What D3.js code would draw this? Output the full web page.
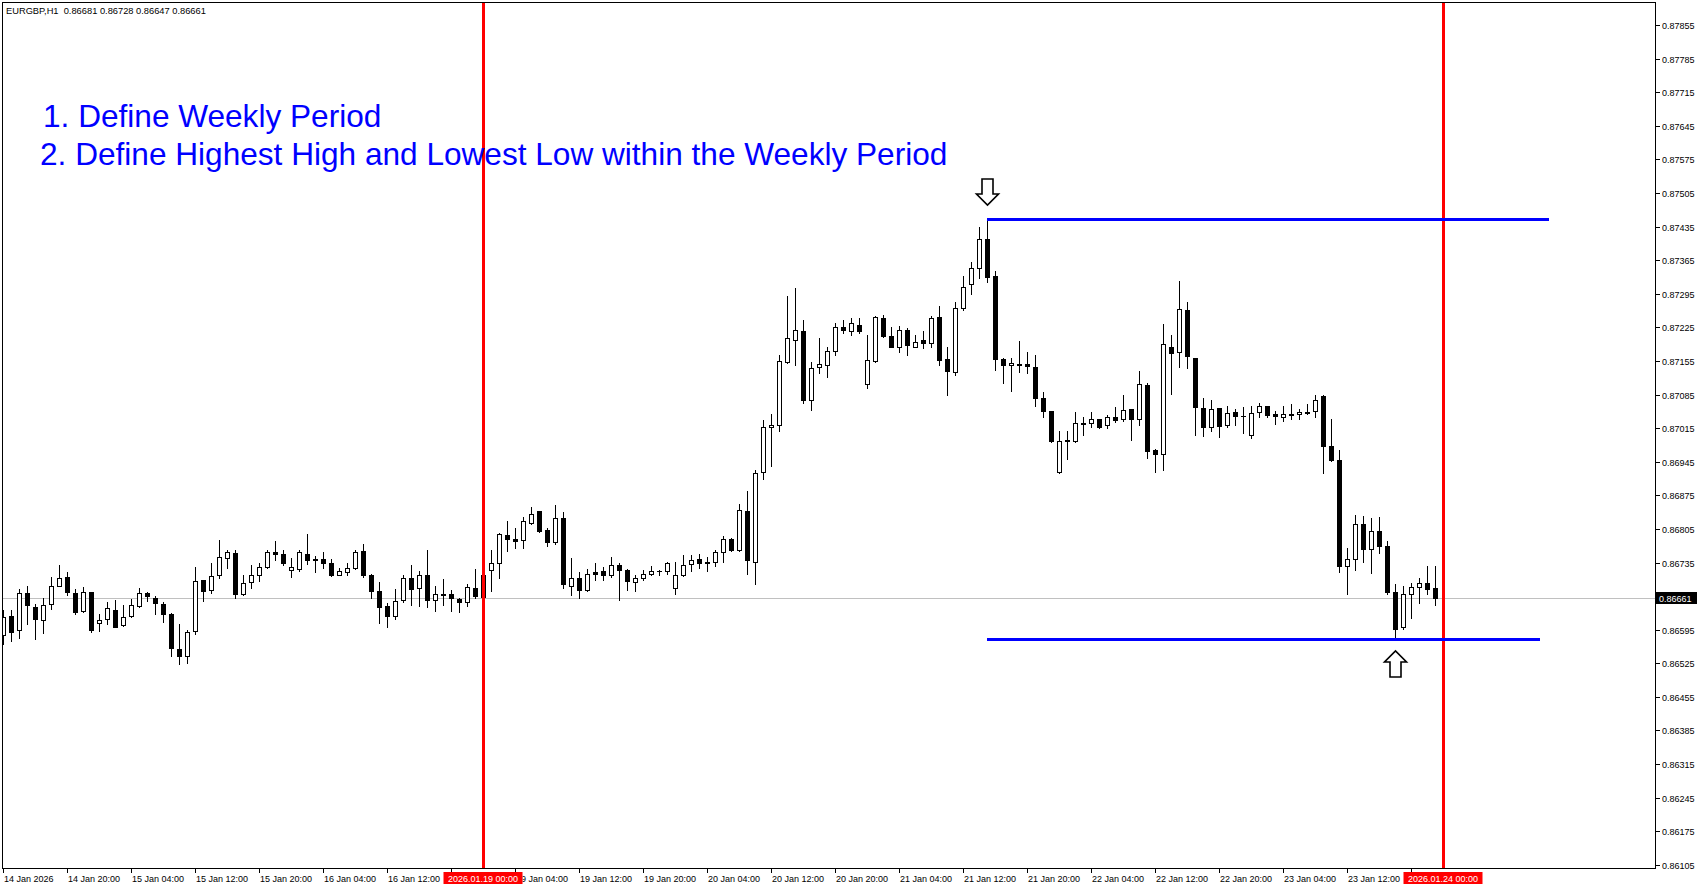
<!DOCTYPE html>
<html><head><meta charset="utf-8">
<script src="https://cdn.jsdelivr.net/npm/d3@7"></script>
<style>
html,body{margin:0;padding:0;background:#fff;overflow:hidden}
svg{display:block}
text{font-family:'Liberation Sans',Arial,sans-serif}
</style></head><body>
<svg id="c" width="1701" height="888"></svg>
<script>
const symbol = "EURGBP,H1";
// hourly sessions (start, number of bars)
const sessions = [["2026-01-14T12:00", 60], ["2026-01-19T00:00", 120]];

const open = [0.86584,0.86623,0.86594,0.86671,0.86642,0.86615,0.86648,0.86687,0.86704,0.86671,
0.86633,0.86673,0.86610,0.86617,0.86637,0.86604,0.86623,0.86644,0.86671,0.86662,
0.86648,0.86627,0.86554,0.86540,0.86592,0.86698,0.86677,0.86708,0.86744,0.86754,
0.86669,0.86694,0.86708,0.86725,0.86756,0.86752,0.86719,0.86721,0.86752,0.86742,
0.86742,0.86735,0.86710,0.86715,0.86723,0.86758,0.86710,0.86675,0.86644,0.86623,
0.86656,0.86702,0.86681,0.86710,0.86656,0.86669,0.86669,0.86658,0.86652,0.86681,
0.86664,0.86719,0.86733,0.86792,0.86785,0.86781,0.86817,0.86842,0.86802,0.86777,
0.86827,0.86687,0.86702,0.86677,0.86715,0.86717,0.86708,0.86729,0.86719,0.86694,
0.86702,0.86712,0.86717,0.86717,0.86681,0.86708,0.86731,0.86742,0.86737,0.86737,
0.86756,0.86785,0.86762,0.86842,0.86737,0.86923,0.87017,0.87021,0.87152,0.87198,
0.87217,0.87073,0.87142,0.87146,0.87175,0.87225,0.87217,0.87229,0.87106,0.87154,
0.87244,0.87206,0.87183,0.87219,0.87185,0.87198,0.87192,0.87246,0.87158,0.87131,
0.87265,0.87315,0.87348,0.87410,0.87331,0.87158,0.87146,0.87148,0.87148,0.87142,
0.87077,0.87050,0.86923,0.86989,0.86988,0.87025,0.87025,0.87033,0.87021,0.87038,
0.87033,0.87054,0.87033,0.87104,0.86969,0.86962,0.87185,0.87173,0.87260,0.87160,
0.87056,0.87017,0.87056,0.87021,0.87048,0.87041,0.87000,0.87048,0.87060,0.87044,
0.87038,0.87043,0.87044,0.87047,0.87050,0.87081,0.86977,0.86948,0.86728,0.86742,
0.86815,0.86763,0.86800,0.86770,0.86674,0.86601,0.86669,0.86684,0.86692,0.86681];
const high = [0.86637,0.86636,0.86679,0.86686,0.86648,0.86660,0.86705,0.86730,0.86715,0.86679,
0.86683,0.86674,0.86627,0.86653,0.86656,0.86646,0.86659,0.86681,0.86673,0.86666,
0.86653,0.86629,0.86606,0.86594,0.86725,0.86699,0.86733,0.86781,0.86762,0.86760,
0.86710,0.86729,0.86733,0.86760,0.86779,0.86760,0.86744,0.86760,0.86794,0.86748,
0.86756,0.86742,0.86723,0.86733,0.86760,0.86773,0.86712,0.86694,0.86650,0.86679,
0.86710,0.86729,0.86717,0.86760,0.86685,0.86700,0.86677,0.86662,0.86690,0.86721,
0.86712,0.86762,0.86796,0.86821,0.86806,0.86829,0.86850,0.86843,0.86806,0.86854,
0.86840,0.86744,0.86715,0.86721,0.86733,0.86725,0.86746,0.86733,0.86721,0.86710,
0.86719,0.86727,0.86719,0.86737,0.86737,0.86750,0.86750,0.86752,0.86746,0.86762,
0.86790,0.86787,0.86856,0.86883,0.86927,0.87031,0.87044,0.87167,0.87290,0.87306,
0.87240,0.87152,0.87202,0.87185,0.87235,0.87240,0.87244,0.87244,0.87210,0.87248,
0.87250,0.87225,0.87227,0.87223,0.87208,0.87217,0.87248,0.87269,0.87183,0.87277,
0.87331,0.87362,0.87433,0.87450,0.87342,0.87162,0.87162,0.87196,0.87173,0.87167,
0.87090,0.87051,0.87010,0.87010,0.87048,0.87038,0.87048,0.87035,0.87042,0.87058,
0.87083,0.87055,0.87135,0.87108,0.86971,0.87231,0.87210,0.87321,0.87277,0.87161,
0.87077,0.87073,0.87057,0.87062,0.87054,0.87058,0.87062,0.87067,0.87062,0.87050,
0.87060,0.87065,0.87054,0.87065,0.87083,0.87083,0.87033,0.86969,0.86765,0.86834,
0.86832,0.86828,0.86830,0.86780,0.86690,0.86686,0.86692,0.86703,0.86728,0.86728];
const low = [0.86565,0.86572,0.86577,0.86607,0.86575,0.86589,0.86639,0.86685,0.86668,0.86628,
0.86632,0.86590,0.86592,0.86606,0.86600,0.86602,0.86622,0.86643,0.86655,0.86628,
0.86612,0.86541,0.86524,0.86526,0.86587,0.86654,0.86671,0.86702,0.86723,0.86662,
0.86667,0.86682,0.86697,0.86724,0.86740,0.86729,0.86705,0.86718,0.86731,0.86716,
0.86723,0.86707,0.86708,0.86708,0.86721,0.86704,0.86660,0.86610,0.86600,0.86617,
0.86652,0.86646,0.86644,0.86642,0.86635,0.86646,0.86635,0.86631,0.86644,0.86662,
0.86662,0.86676,0.86703,0.86758,0.86765,0.86765,0.86815,0.86798,0.86769,0.86773,
0.86681,0.86667,0.86660,0.86675,0.86698,0.86698,0.86704,0.86656,0.86677,0.86675,
0.86698,0.86710,0.86708,0.86712,0.86669,0.86706,0.86718,0.86723,0.86718,0.86727,
0.86737,0.86758,0.86759,0.86712,0.86690,0.86910,0.86937,0.87010,0.87150,0.87146,
0.87067,0.87052,0.87129,0.87121,0.87167,0.87213,0.87210,0.87213,0.87098,0.87152,
0.87204,0.87183,0.87173,0.87167,0.87183,0.87181,0.87183,0.87146,0.87083,0.87125,
0.87260,0.87294,0.87327,0.87319,0.87137,0.87110,0.87092,0.87131,0.87129,0.87060,
0.87038,0.86987,0.86921,0.86950,0.86987,0.87000,0.87017,0.87015,0.87015,0.87027,
0.87029,0.86990,0.87021,0.86952,0.86923,0.86927,0.87087,0.87142,0.87140,0.87000,
0.86998,0.87008,0.86996,0.87017,0.87021,0.87004,0.86994,0.87038,0.87038,0.87023,
0.87029,0.87035,0.87033,0.87044,0.87038,0.86921,0.86946,0.86715,0.86669,0.86719,
0.86736,0.86713,0.86755,0.86669,0.86576,0.86596,0.86619,0.86651,0.86669,0.86647];
const close = [0.86622,0.86591,0.86671,0.86646,0.86617,0.86646,0.86687,0.86702,0.86673,0.86632,
0.86673,0.86594,0.86615,0.86640,0.86601,0.86621,0.86646,0.86671,0.86665,0.86650,
0.86627,0.86556,0.86540,0.86590,0.86696,0.86675,0.86706,0.86746,0.86756,0.86669,
0.86692,0.86708,0.86725,0.86756,0.86752,0.86733,0.86725,0.86756,0.86740,0.86740,
0.86733,0.86710,0.86717,0.86723,0.86756,0.86710,0.86675,0.86642,0.86623,0.86654,
0.86702,0.86679,0.86708,0.86656,0.86669,0.86667,0.86660,0.86652,0.86683,0.86665,
0.86710,0.86733,0.86794,0.86783,0.86779,0.86821,0.86837,0.86800,0.86777,0.86827,
0.86690,0.86702,0.86677,0.86712,0.86712,0.86710,0.86729,0.86719,0.86696,0.86702,
0.86712,0.86717,0.86718,0.86733,0.86708,0.86729,0.86740,0.86733,0.86733,0.86756,
0.86785,0.86762,0.86844,0.86740,0.86921,0.87017,0.87021,0.87154,0.87202,0.87219,
0.87073,0.87140,0.87148,0.87175,0.87225,0.87219,0.87233,0.87217,0.87156,0.87246,
0.87206,0.87185,0.87219,0.87188,0.87194,0.87192,0.87244,0.87156,0.87133,0.87265,
0.87310,0.87348,0.87408,0.87329,0.87158,0.87146,0.87150,0.87146,0.87144,0.87077,
0.87050,0.86988,0.86988,0.86990,0.87025,0.87023,0.87033,0.87017,0.87038,0.87031,
0.87052,0.87035,0.87106,0.86967,0.86962,0.87190,0.87171,0.87263,0.87165,0.87058,
0.87017,0.87054,0.87019,0.87046,0.87040,0.87040,0.87046,0.87062,0.87042,0.87040,
0.87044,0.87044,0.87048,0.87048,0.87073,0.86977,0.86948,0.86728,0.86742,0.86815,
0.86763,0.86800,0.86770,0.86674,0.86596,0.86669,0.86684,0.86692,0.86680,0.86661];

const yTicks = [0.87855,0.87785,0.87715,0.87645,0.87575,0.87505,0.87435,0.87365,0.87295,0.87225,
0.87155,0.87085,0.87015,0.86945,0.86875,0.86805,0.86735,0.86665,0.86595,0.86525,
0.86455,0.86385,0.86315,0.86245,0.86175,0.86105];
// null = label hidden behind a separator tag
const xTickLabels = ["14 Jan 2026","14 Jan 20:00","15 Jan 04:00","15 Jan 12:00","15 Jan 20:00",
"16 Jan 04:00","16 Jan 12:00",null,"19 Jan 04:00","19 Jan 12:00","19 Jan 20:00",
"20 Jan 04:00","20 Jan 12:00","20 Jan 20:00","21 Jan 04:00","21 Jan 12:00","21 Jan 20:00",
"22 Jan 04:00","22 Jan 12:00","22 Jan 20:00","23 Jan 04:00","23 Jan 12:00",null];
const xTickEvery = 8;
const periodSeparators = [{label:"2026.01.19 00:00", bar:60},{label:"2026.01.24 00:00", bar:180}];
const levelLines = [{price:0.87450, fromBar:123, toBar:193.25},{price:0.86576, fromBar:123, toBar:192.1}];
const arrowMarks = [{bar:123, price:0.87450, dir:"down"},{bar:174, price:0.86576, dir:"up"}];
const notes = ["1. Define Weekly Period","2. Define Highest High and Lowest Low within the Weekly Period"];

// ---- build categories
const times = [];
sessions.forEach(([s,n])=>{ const t0=new Date(s+":00Z"); for(let i=0;i<n;i++) times.push(new Date(t0.getTime()+i*3600e3)); });
const bars = times.map((t,i)=>({t,i,o:open[i],h:high[i],l:low[i],c:close[i]}));

const W=1701,H=888, L=2.5, T=2.5, R=1655.5, B=868.5;
const svg=d3.select("#c");
const x=d3.scaleLinear().domain([0,180]).range([3,1443]);
const y=d3.scaleLinear().domain([0.86105,0.87855]).range([864.9,24.9]);
const px=v=>Math.round(x(v))+0.5, py=v=>Math.round(y(v))+0.5;

svg.append("rect").attr("width",W).attr("height",H).attr("fill","#fff");
const defs=svg.append("defs");
defs.append("clipPath").attr("id","plot").append("rect")
  .attr("x",3).attr("y",3).attr("width",R-3.5).attr("height",B-3.5);
const g=svg.append("g").attr("clip-path","url(#plot)").attr("shape-rendering","crispEdges");

// current bid line
const last=close[close.length-1];
g.append("line").attr("x1",L).attr("x2",R).attr("y1",py(last)).attr("y2",py(last)).attr("stroke","#c0c0c0");

// candles
const cg=g.append("g");
bars.forEach(b=>{
  const cx=Math.round(x(b.i));
  cg.append("line").attr("x1",cx+0.5).attr("x2",cx+0.5).attr("y1",Math.round(y(b.h))).attr("y2",Math.round(y(b.l))+1).attr("stroke","#000");
  const top=py(Math.max(b.o,b.c)), bot=py(Math.min(b.o,b.c));
  const bull=b.c>=b.o;
  if(bot-top<1){
    cg.append("line").attr("x1",cx-2).attr("x2",cx+3).attr("y1",top).attr("y2",top).attr("stroke","#000");
  } else {
    cg.append("rect").attr("x",cx-1.5).attr("y",top).attr("width",4).attr("height",bot-top)
      .attr("fill",bull?"#fff":"#000").attr("stroke","#000");
  }
});

// period separators
periodSeparators.forEach(p=>{
  g.append("line").attr("x1",px(p.bar)-0.5).attr("x2",px(p.bar)-0.5).attr("y1",T).attr("y2",B)
   .attr("stroke","#ff0000").attr("stroke-width",3);
});

// level lines
levelLines.forEach(l=>{
  g.append("line").attr("x1",x(l.fromBar)).attr("x2",x(l.toBar)).attr("y1",Math.round(y(l.price))).attr("y2",Math.round(y(l.price)))
   .attr("stroke","#0000ff").attr("stroke-width",3);
});

// arrows
arrowMarks.forEach(a=>{
  const cx=Math.round(x(a.bar))+0.5, s=a.dir==="down"?-1:1;
  const tip=Math.round(y(a.price))+s*(a.dir==="down"?14:12);
  const base=tip+s*11, end=tip+s*26;
  const pts=[[cx-5.5,end],[cx+5.5,end],[cx+5.5,base],[cx+11,base],[cx,tip],[cx-11,base],[cx-5.5,base]];
  svg.append("path").attr("d","M"+pts.map(p=>p.join(",")).join("L")+"Z")
    .attr("fill","#fff").attr("stroke","#000").attr("stroke-width",1.6).attr("stroke-linejoin","miter");
});

// notes
const noteX=[43,40], noteY=[127,165];
notes.forEach((n,i)=>{
  svg.append("text").attr("x",noteX[i]).attr("y",noteY[i]).attr("font-size",31.6).attr("fill","#0000ff").text(n);
});

// frame
svg.append("rect").attr("x",L).attr("y",T).attr("width",R-L).attr("height",B-T)
  .attr("fill","none").attr("stroke","#000").attr("shape-rendering","crispEdges");

// header
svg.append("text").attr("x",6).attr("y",14).attr("font-size",9.3).attr("fill","#000")
  .style("white-space","pre").text(`${symbol}  ${open[179].toFixed(5)} ${high[179].toFixed(5)} ${low[179].toFixed(5)} ${close[179].toFixed(5)}`);

// y axis
const ya=svg.append("g");
yTicks.forEach(v=>{
  const yy=Math.round(y(v))+0.5;
  ya.append("line").attr("x1",R).attr("x2",R+4).attr("y1",yy).attr("y2",yy).attr("stroke","#000").attr("shape-rendering","crispEdges");
  ya.append("text").attr("x",1662).attr("y",yy+3.5).attr("font-size",9).attr("fill","#000").text(v.toFixed(5));
});
// current price tag
ya.append("rect").attr("x",1656).attr("y",Math.round(y(last))-6).attr("width",41).attr("height",12).attr("fill","#000");
ya.append("text").attr("x",1659).attr("y",Math.round(y(last))+3.5).attr("font-size",9).attr("fill","#fff").text(last.toFixed(5));

// x axis
const xa=svg.append("g");
// labels are clipped where a separator tag sits over them
const tagHalf=39.5;
const clipX=defs.append("clipPath").attr("id","xlab");
let prev=0;
periodSeparators.map(p=>Math.round(x(p.bar))).forEach(cx=>{
  clipX.append("rect").attr("x",prev).attr("y",868).attr("width",cx-tagHalf-prev).attr("height",20);
  prev=cx+tagHalf;
});
clipX.append("rect").attr("x",prev).attr("y",868).attr("width",W-prev).attr("height",20);
const xl=xa.append("g").attr("clip-path","url(#xlab)");
xTickLabels.forEach((lab,j)=>{
  const xx=px(j*xTickEvery);
  xa.append("line").attr("x1",xx).attr("x2",xx).attr("y1",B).attr("y2",B+4).attr("stroke","#000").attr("shape-rendering","crispEdges");
  if(lab) xl.append("text").attr("x",xx+0.5).attr("y",882).attr("font-size",9).attr("fill","#000").text(lab);
});
periodSeparators.forEach(p=>{
  const xx=Math.round(x(p.bar));
  xa.append("rect").attr("x",xx-tagHalf).attr("y",872).attr("width",79).attr("height",12).attr("fill","#ff0000");
  xa.append("text").attr("x",xx).attr("y",882).attr("font-size",9).attr("fill","#fff").attr("text-anchor","middle").text(p.label);
});
</script></body></html>
